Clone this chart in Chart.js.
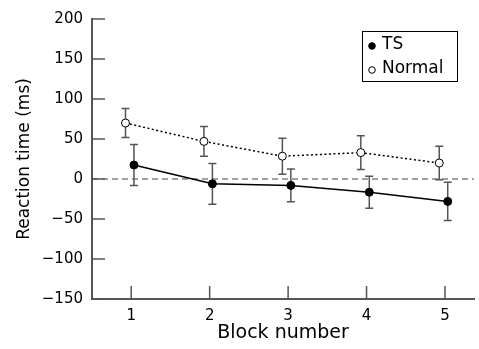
<!DOCTYPE html>
<html>
<head>
<meta charset="utf-8">
<script src="https://cdn.jsdelivr.net/npm/chart.js@4.4.1/dist/chart.umd.min.js"></script>
<style>
  html, body { margin: 0; padding: 0; background: #fff; }
  #wrap { width: 479px; height: 349px; }
</style>
</head>
<body>
<div id="wrap"><canvas id="rtChart" width="479" height="349"></canvas></div>
<script>
// ---- data ----
const blocks = [1, 2, 3, 4, 5];
const tsMean = [17.5, -6, -8, -16.5, -28];
const tsErr = [25.5, 25.5, 20.5, 20, 24];
const normalMean = [70, 47, 28.5, 33, 20];
const normalErr = [18, 18.5, 22.5, 21, 21];
const yTicks = [-150, -100, -50, 0, 50, 100, 150, 200];

// small horizontal dodge so the two series do not overlap
const DODGE_TS = 0.035;
const DODGE_NORMAL = -0.073;

const FONT = 'DejaVu Sans';
const AXIS_COLOR = '#555';

function toPoints(means, dodge) {
  return blocks.map((b, i) => ({ x: b + dodge, y: means[i] }));
}

function fmt(v) {
  return v < 0 ? '\u2212' + Math.abs(v) : String(v);
}

// zero line, inside ticks and error bars
const decorations = {
  id: 'decorations',
  beforeDatasetsDraw(chart) {
    const { ctx, chartArea, scales: { x, y } } = chart;
    ctx.save();

    // dashed zero reference line
    const y0 = y.getPixelForValue(0);
    ctx.strokeStyle = '#444';
    ctx.lineWidth = 1.2;
    ctx.setLineDash([6, 4]);
    ctx.beginPath();
    ctx.moveTo(chartArea.left, y0);
    ctx.lineTo(chartArea.right, y0);
    ctx.stroke();
    ctx.setLineDash([]);

    // tick marks pointing into the plot
    ctx.strokeStyle = AXIS_COLOR;
    ctx.lineWidth = 1.5;
    y.ticks.forEach(t => {
      const py = y.getPixelForValue(t.value);
      const len = yTicks.includes(t.value) ? 13 : 8;
      ctx.beginPath();
      ctx.moveTo(chartArea.left, py);
      ctx.lineTo(chartArea.left + len, py);
      ctx.stroke();
    });
    x.ticks.forEach(t => {
      const px = x.getPixelForValue(t.value);
      ctx.beginPath();
      ctx.moveTo(px, chartArea.bottom);
      ctx.lineTo(px, chartArea.bottom - 13);
      ctx.stroke();
    });

    // error bars
    ctx.strokeStyle = AXIS_COLOR;
    ctx.lineWidth = 1.5;
    chart.data.datasets.forEach(ds => {
      ds.data.forEach((p, i) => {
        const px = x.getPixelForValue(p.x);
        const top = y.getPixelForValue(p.y + ds.errors[i]);
        const bot = y.getPixelForValue(p.y - ds.errors[i]);
        ctx.beginPath();
        ctx.moveTo(px, top); ctx.lineTo(px, bot);
        ctx.moveTo(px - 4, top); ctx.lineTo(px + 4, top);
        ctx.moveTo(px - 4, bot); ctx.lineTo(px + 4, bot);
        ctx.stroke();
      });
    });
    ctx.restore();
  },
  afterDraw(chart) {
    // boxed legend in the upper right
    const { ctx } = chart;
    ctx.save();
    ctx.strokeStyle = '#000';
    ctx.lineWidth = 1;
    ctx.strokeRect(362.5, 31.5, 95, 50);
    ctx.font = '17px "' + FONT + '"';
    ctx.fillStyle = '#000';
    ctx.textBaseline = 'middle';
    chart.data.datasets.forEach((ds, i) => {
      const cy = 45 + i * 24;
      ctx.beginPath();
      ctx.arc(372, cy + 1, 3.3, 0, Math.PI * 2);
      ctx.fillStyle = ds.pointBackgroundColor;
      ctx.fill();
      ctx.lineWidth = 1;
      ctx.strokeStyle = '#000';
      ctx.stroke();
      ctx.fillStyle = '#000';
      ctx.fillText(ds.label, 382, cy);
    });
    ctx.restore();
  }
};

new Chart(document.getElementById('rtChart'), {
  type: 'scatter',
  data: {
    datasets: [
      {
        label: 'TS',
        data: toPoints(tsMean, DODGE_TS),
        errors: tsErr,
        showLine: true,
        borderColor: '#000',
        borderWidth: 1.5,
        pointRadius: 4,
        pointBackgroundColor: '#000',
        pointBorderColor: '#000',
        pointBorderWidth: 1,
        clip: false
      },
      {
        label: 'Normal',
        data: toPoints(normalMean, DODGE_NORMAL),
        errors: normalErr,
        showLine: true,
        borderColor: '#000',
        borderWidth: 1.5,
        borderDash: [2, 2.5],
        pointRadius: 4,
        pointBackgroundColor: '#fff',
        pointBorderColor: '#000',
        pointBorderWidth: 1,
        clip: false
      }
    ]
  },
  options: {
    responsive: false,
    animation: false,
    layout: { padding: { top: 19, right: 1, left: 0, bottom: 0 } },
    plugins: { legend: { display: false }, tooltip: { enabled: false } },
    scales: {
      x: {
        type: 'linear',
        min: 0.5,
        max: 5.37,
        afterFit: s => { s.height = 50; },
        grid: { display: false, drawTicks: false },
        border: { display: true, color: AXIS_COLOR, width: 2 },
        ticks: {
          stepSize: 1,
          includeBounds: false,
          padding: 8,
          color: '#000',
          font: { family: FONT, size: 15 },
          callback: v => String(v)
        },
        title: {
          display: true,
          text: 'Block number',
          color: '#000',
          font: { family: FONT, size: 19 },
          padding: { top: 0, bottom: 5 }
        }
      },
      y: {
        min: -150,
        max: 200,
        afterFit: s => { s.width = 92; },
        grid: { display: false, drawTicks: false },
        border: { display: true, color: AXIS_COLOR, width: 2 },
        ticks: {
          stepSize: 25,
          padding: 9,
          color: '#000',
          font: { family: FONT, size: 15 },
          callback: v => (yTicks.includes(v) ? fmt(v) : '')
        },
        title: {
          display: true,
          text: 'Reaction time (ms)',
          color: '#000',
          font: { family: FONT, size: 17 },
          padding: { top: 14, bottom: 0 }
        }
      }
    }
  },
  plugins: [decorations]
});
</script>
</body>
</html>
